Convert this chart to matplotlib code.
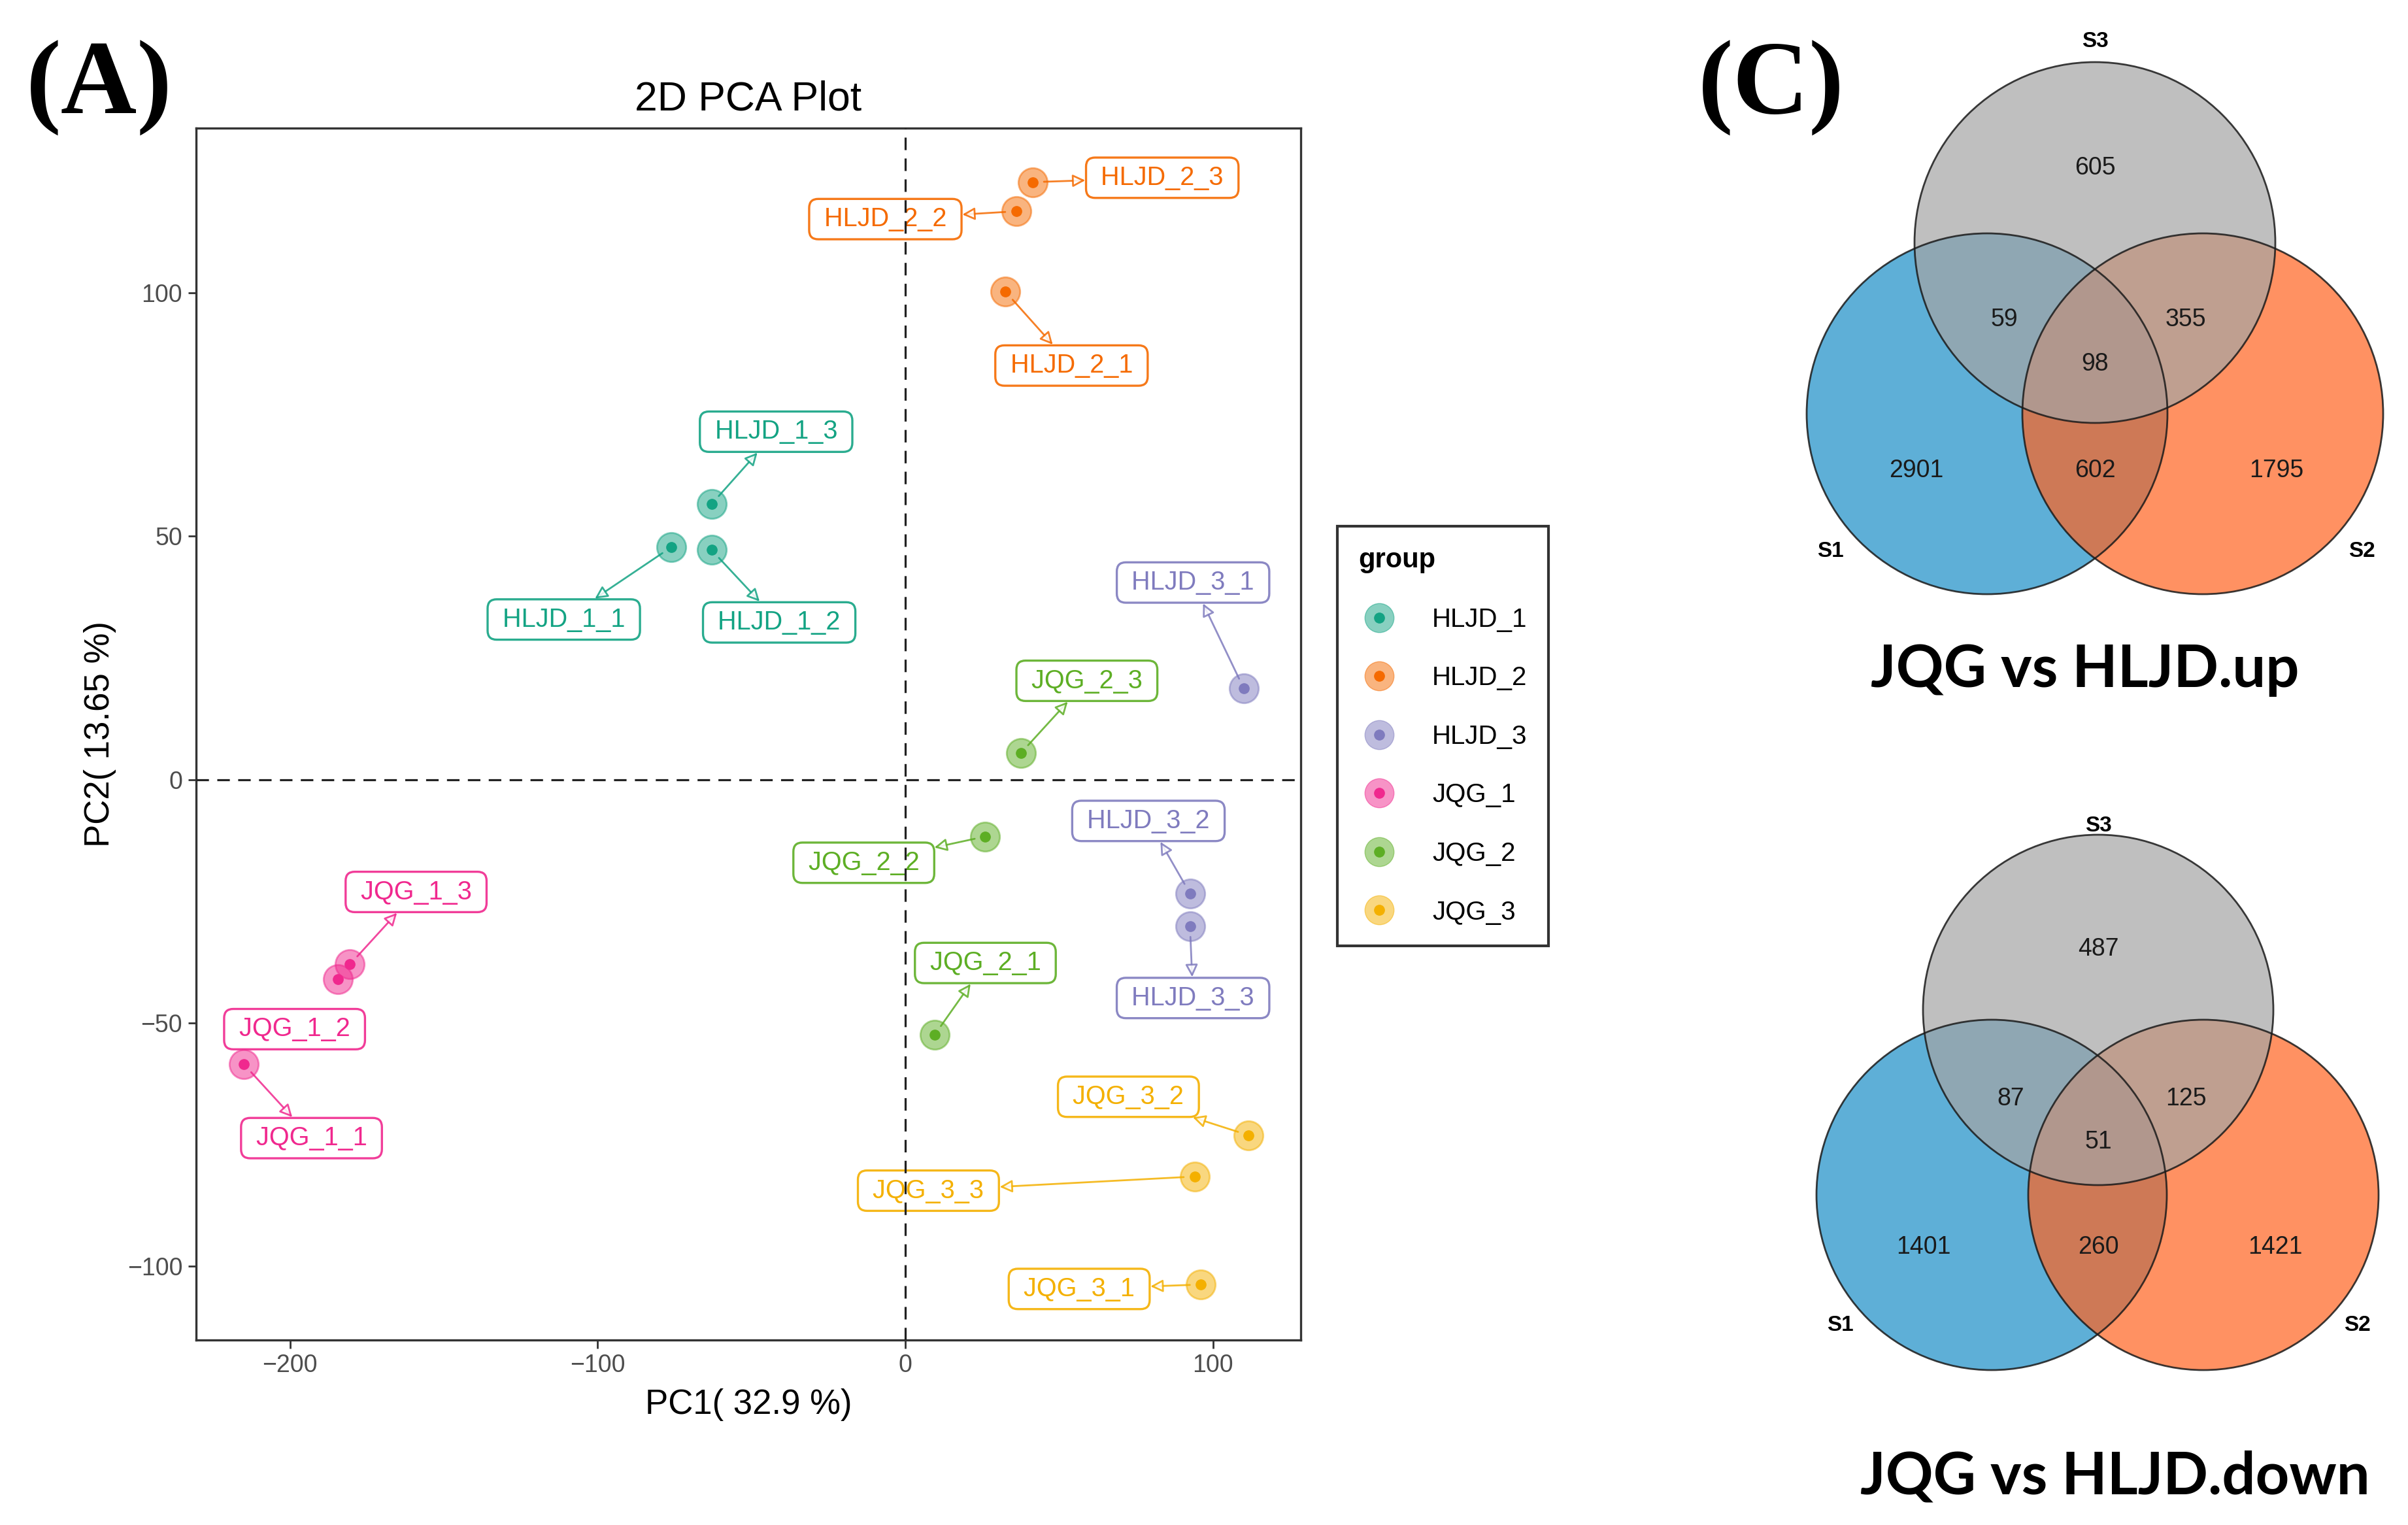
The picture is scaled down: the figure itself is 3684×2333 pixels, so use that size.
import numpy as np
import matplotlib
matplotlib.use("Agg")
import matplotlib.pyplot as plt
from matplotlib.lines import Line2D
from matplotlib.patches import Circle
from matplotlib.legend_handler import HandlerTuple

plt.rcParams['font.family'] = ['Liberation Sans', 'DejaVu Sans']

# ---- PCA data ----
groups = ["HLJD_1", "HLJD_2", "HLJD_3", "JQG_1", "JQG_2", "JQG_3"]
group_colors = ["#13A383", "#F56A00", "#7F7BBE", "#F0288E", "#5DAE24", "#F4B000"]
samples = ["HLJD_1_1", "HLJD_1_2", "HLJD_1_3", "HLJD_2_1", "HLJD_2_2", "HLJD_2_3",
           "HLJD_3_1", "HLJD_3_2", "HLJD_3_3", "JQG_1_1", "JQG_1_2", "JQG_1_3",
           "JQG_2_1", "JQG_2_2", "JQG_2_3", "JQG_3_1", "JQG_3_2", "JQG_3_3"]
sample_group = [0, 0, 0, 1, 1, 1, 2, 2, 2, 3, 3, 3, 4, 4, 4, 5, 5, 5]
pc1 = [-76, -63, -63, 32.5, 36, 41.5, 110, 92.5, 92.5,
       -215, -184.5, -180.5, 9.5, 26, 37.5, 96, 111.5, 94]
pc2 = [47.8, 47.2, 56.6, 100.3, 116.8, 122.8, 18.7, -23.4, -30.1,
       -58.5, -41.1, -38.0, -52.5, -11.7, 5.4, -103.8, -73.1, -81.6]

# repelled label positions (layout)
label_x = [-111, -41, -42, 54, -6.5, 83.5, 93.5, 79, 93.5,
           -193, -198.5, -159, 26, -13.5, 59, 56.5, 72.5, 7.5]
label_y = [32.9, 32.3, 71.5, 85.1, 115.2, 123.7, 40.5, -8.5, -44.9,
           -73.7, -51.3, -23.1, -37.7, -17.1, 20.3, -104.7, -65.2, -84.5]
no_segment = {"JQG_1_2"}

# ---- Venn data ----
venn_sets = ["S1", "S2", "S3"]
venn_colors = ["#1A8DC6", "#FF631F", "#A5A5A5"]
# order: only S1, S1&S2, only S2, S1&S3, S1&S2&S3, S2&S3, only S3
up_counts = [2901, 602, 1795, 59, 98, 355, 605]
down_counts = [1401, 260, 1421, 87, 51, 125, 487]
venn_titles = ["JQG vs HLJD.up", "JQG vs HLJD.down"]

W, H = 3684, 2333
fig = plt.figure(figsize=(W / 100, H / 100), dpi=100)

# overlay axes in pixel coordinates for Venn panels and panel letters
ov = fig.add_axes([0, 0, 1, 1], zorder=0)
ov.set_xlim(0, W)
ov.set_ylim(H, 0)
ov.axis("off")

ax = fig.add_axes([300 / W, 1 - 2050 / H, 1690 / W, 1854 / H], zorder=2)
ax.set_xlim(-230.5, 128.5)
ax.set_ylim(-115.2, 133.9)

ax.axhline(0, color="#222222", lw=2.3, ls=(0, (6, 4)), zorder=4)
ax.axvline(0, color="#222222", lw=2.3, ls=(0, (6, 4)), zorder=4)

for i, s in enumerate(samples):
    c = group_colors[sample_group[i]]
    ap = None
    if s not in no_segment:
        ap = dict(arrowstyle="<|-,head_length=0.4,head_width=0.2",
                  ec=c, fc="white", lw=2.0, alpha=0.85, shrinkA=0, shrinkB=12)
    ax.annotate(" " + s + " ", xy=(pc1[i], pc2[i]), xytext=(label_x[i], label_y[i]),
                ha="center", va="center", color=c, fontsize=28.5,
                bbox=dict(boxstyle="round,pad=0.3,rounding_size=0.35", fc="white",
                          ec=c, lw=2.4, alpha=0.9),
                arrowprops=ap, zorder=3)

for g, c in enumerate(group_colors):
    xs = [pc1[i] for i in range(len(samples)) if sample_group[i] == g]
    ys = [pc2[i] for i in range(len(samples)) if sample_group[i] == g]
    ax.plot(xs, ys, "o", ms=32, mfc=c, mec=c, mew=2, alpha=0.5, zorder=5)
    ax.plot(xs, ys, "o", ms=11, color=c, zorder=6)

ax.set_xticks([-200, -100, 0, 100])
ax.set_yticks([-100, -50, 0, 50, 100])
ax.set_xticklabels(["\u2212200", "\u2212100", "0", "100"])
ax.set_yticklabels(["\u2212100", "\u221250", "0", "50", "100"])
ax.tick_params(labelsize=27, labelcolor="#4D4D4D", color="#333333", length=9, width=2, pad=6)
for sp in ax.spines.values():
    sp.set_color("#333333")
    sp.set_linewidth(2.4)
ax.set_xlabel("PC1( 32.9 %)", fontsize=38, labelpad=12)
ax.set_ylabel("PC2( 13.65 %)", fontsize=38, labelpad=12)
ax.set_title("2D PCA Plot", fontsize=45, pad=20)

handles = []
for c in group_colors:
    handles.append((Line2D([], [], marker="o", ls="", ms=32, mfc=c, mec=c, alpha=0.5),
                    Line2D([], [], marker="o", ls="", ms=11, color=c)))
leg = fig.legend(handles, groups, title="group", loc="upper left",
                 bbox_to_anchor=(2046 / W, 1 - 805 / H), bbox_transform=fig.transFigure,
                 handler_map={tuple: HandlerTuple(ndivide=1)},
                 fontsize=29, title_fontproperties={"size": 30, "weight": "bold"},
                 frameon=True, fancybox=False, edgecolor="black", alignment="left",
                 labelspacing=1.28, handlelength=1.6, handletextpad=1.2,
                 borderpad=0.8, borderaxespad=0)
leg.get_frame().set_linewidth(3)

# panel letters
ov.text(152, 135, "(A)", fontsize=116, fontweight="bold", family="Liberation Serif",
        ha="center", va="center")
ov.text(2710, 135, "(C)", fontsize=116, fontweight="bold", family="Liberation Serif",
        ha="center", va="center")

# Venn panels
def venn(centers, r, counts, pos, set_pos, title, title_xy):
    for k in range(3):
        ov.add_patch(Circle(centers[k], r, fc=venn_colors[k], ec="none", alpha=0.7))
    for k in range(3):
        ov.add_patch(Circle(centers[k], r, fc="none", ec="#1a1a1a", lw=2, alpha=0.85))
    for n, (x, y) in zip(counts, pos):
        ov.text(x, y, str(n), fontsize=27, color="#1a1a1a", ha="center", va="center")
    for name, (x, y) in zip(venn_sets, set_pos):
        ov.text(x, y, name, fontsize=24, fontweight="bold", ha="center", va="center")
    ov.text(title_xy[0], title_xy[1], title, fontsize=65, fontweight="bold",
            family=["Lato", "DejaVu Sans"], ha="center", va="center")

venn([(3040, 633), (3370, 633), (3205, 371)], 276, up_counts,
     [(2932, 720), (3205, 720), (3483, 720), (3066, 489), (3205, 557), (3344, 489), (3205, 257)],
     [(2800, 843), (3613, 843), (3205, 64)], venn_titles[0], (3190, 1025))
venn([(3047, 1828), (3371, 1828), (3210, 1545)], 268, down_counts,
     [(2943, 1908), (3210, 1908), (3481, 1908), (3076, 1681), (3210, 1747), (3344, 1681), (3210, 1452)],
     [(2815, 2028), (3606, 2028), (3210, 1263)], venn_titles[1], (3236, 2260))

fig.savefig("out.png", dpi=100)
